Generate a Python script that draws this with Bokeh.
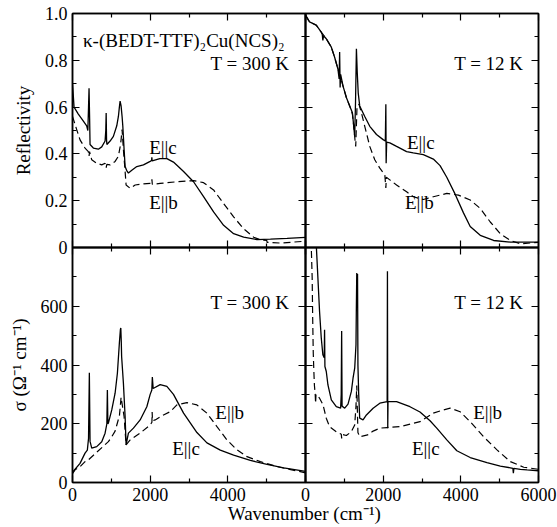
from bokeh.embed import file_html
from bokeh.layouts import column
from bokeh.models import (CustomJSTickFormatter, FixedTicker, Label,
                          LinearAxis, Range1d)
from bokeh.plotting import figure
from bokeh.resources import INLINE

# ---------------------------------------------------------------------------
# Reflectivity, T = 300 K (wavenumber in cm^-1)
r300_c_x = [0, 40, 150, 280, 365, 395, 413, 426, 441, 452, 537, 666, 753, 839, 857,
            867, 877, 885, 968, 1053, 1140, 1182, 1207, 1226, 1251, 1277, 1295, 1329,
            1355, 1393, 1440, 1527, 1656, 1827, 2000, 2038, 2043, 2051, 2250, 2430,
            2600, 2860, 3117, 3375, 3633, 3891, 4149, 4407, 4752, 5096, 5526, 6000]
r300_c_y = [0.70, 0.60, 0.57, 0.54, 0.52, 0.50, 0.60, 0.68, 0.55, 0.44, 0.425, 0.42,
            0.43, 0.455, 0.50, 0.575, 0.46, 0.44, 0.455, 0.475, 0.52, 0.56, 0.60, 0.626,
            0.605, 0.56, 0.52, 0.418, 0.346, 0.33, 0.318, 0.33, 0.346, 0.353, 0.368,
            0.372, 0.385, 0.37, 0.38, 0.38, 0.365, 0.325, 0.281, 0.217, 0.152, 0.095,
            0.059, 0.044, 0.034, 0.036, 0.039, 0.043]
r300_b_x = [0, 108, 194, 323, 408, 426, 439, 495, 624, 753, 839, 864, 885, 968, 1097,
            1182, 1226, 1251, 1277, 1311, 1355, 1380, 1485, 1613, 1827, 2000, 2040, 2045,
            2055, 2258, 2688, 3117, 3375, 3633, 3891, 4149, 4407, 4665, 4838, 5005, 5010,
            5354, 6000]
r300_b_y = [0.56, 0.504, 0.46, 0.425, 0.41, 0.39, 0.41, 0.375, 0.36, 0.353, 0.36, 0.34,
            0.355, 0.353, 0.368, 0.39, 0.43, 0.46, 0.504, 0.418, 0.325, 0.267, 0.253,
            0.267, 0.272, 0.274, 0.274, 0.292, 0.27, 0.274, 0.281, 0.286, 0.277, 0.246,
            0.188, 0.131, 0.08, 0.044, 0.033, 0.03, 0.022, 0.019, 0.027]

# Reflectivity, T = 12 K
r12_c_x = [0, 103, 277, 406, 432, 447, 465, 535, 665, 750, 835, 866, 879, 892, 905, 965,
           1052, 1138, 1208, 1241, 1267, 1288, 1311, 1332, 1358, 1396, 1526, 1655, 1828,
           1999, 2056, 2069, 2077, 2090, 2172, 2345, 2604, 2775, 3034, 3292, 3465, 3638,
           3853, 4068, 4241, 4500, 4844, 5276, 6000]
r12_c_y = [0.993, 0.964, 0.95, 0.92, 0.91, 0.885, 0.905, 0.892, 0.856, 0.813, 0.763,
           0.72, 0.835, 0.684, 0.74, 0.691, 0.641, 0.605, 0.576, 0.52, 0.475, 0.62,
           0.849, 0.75, 0.66, 0.605, 0.56, 0.518, 0.483, 0.461, 0.455, 0.612, 0.36, 0.45,
           0.447, 0.432, 0.41, 0.404, 0.397, 0.378, 0.35, 0.30, 0.228, 0.148, 0.09,
           0.052, 0.03, 0.023, 0.023]
r12_b_x = [0, 103, 277, 406, 535, 665, 750, 835, 965, 1052, 1138, 1208, 1241, 1280, 1293,
           1327, 1378, 1440, 1526, 1655, 1784, 1914, 2043, 2069, 2082, 2172, 2345, 2604,
           2775, 3034, 3292, 3638, 3938, 4241, 4500, 4758, 5017, 5276, 5534, 6000]
r12_b_y = [0.993, 0.964, 0.95, 0.92, 0.892, 0.856, 0.813, 0.763, 0.691, 0.641, 0.605,
           0.57, 0.52, 0.45, 0.432, 0.605, 0.612, 0.576, 0.518, 0.432, 0.375, 0.339,
           0.31, 0.254, 0.30, 0.289, 0.267, 0.238, 0.217, 0.205, 0.217, 0.231, 0.224,
           0.203, 0.167, 0.109, 0.059, 0.03, 0.016, 0.022]

# Optical conductivity (Ohm^-1 cm^-1), T = 300 K
s300_c_x = [0, 194, 323, 382, 413, 434, 452, 495, 624, 753, 839, 885, 898, 911, 924,
            1011, 1097, 1156, 1207, 1233, 1244, 1256, 1265, 1311, 1355, 1380, 1440, 1569,
            1742, 1914, 2000, 2043, 2056, 2077, 2258, 2430, 2600, 2860, 3204, 3462, 3806,
            4149, 4580, 5010, 5439, 6000]
s300_c_y = [35, 65, 100, 110, 150, 374, 140, 117, 122, 139, 168, 200, 315, 200, 202, 247,
            304, 372, 475, 520, 526, 480, 429, 338, 224, 128, 168, 185, 213, 258, 300,
            315, 359, 320, 333, 327, 300, 236, 170, 135, 110, 93, 75, 62, 50, 38]
s300_b_x = [0, 65, 194, 323, 408, 624, 882, 924, 1011, 1097, 1182, 1207, 1251, 1329,
            1380, 1485, 1742, 2000, 2045, 2051, 2060, 2129, 2343, 2516, 2688, 2946, 3204,
            3462, 3720, 3978, 4236, 4494, 4838, 5268, 6000]
s300_b_y = [30, 43, 54, 71, 77, 103, 134, 139, 156, 175, 215, 225, 290, 224, 128, 145,
            168, 196, 205, 240, 210, 213, 230, 241, 264, 272, 264, 236, 190, 145, 111, 88,
            71, 54, 33]

# Optical conductivity, T = 12 K
s12_c_x = [150, 250, 277, 362, 406, 447, 482, 491, 500, 535, 578, 665, 793, 905, 920,
           931, 942, 1010, 1095, 1181, 1224, 1267, 1300, 1310, 1320, 1330, 1340, 1350,
           1370, 1396, 1482, 1569, 1741, 1914, 2103, 2110, 2118, 2125, 2345, 2690, 2948,
           3207, 3380, 3639, 3897, 4241, 4673, 5017, 5276, 5340, 5353, 5366, 5534, 5707,
           6000]
s12_c_y = [1400, 900, 810, 582, 492, 435, 425, 520, 395, 378, 332, 281, 258, 253, 300,
           516, 260, 253, 267, 310, 355, 389, 469, 600, 713, 600, 710, 400, 300, 219, 213,
           230, 253, 270, 275, 719, 185, 275, 275, 258, 240, 210, 185, 145, 108, 85, 68,
           56, 50, 48, 32, 48, 45, 43, 40]
s12_b_x = [100, 147, 172, 185, 200, 215, 230, 250, 260, 270, 362, 450, 535, 621, 793,
           922, 931, 940, 1052, 1181, 1267, 1300, 1320, 1335, 1350, 1396, 1600, 1741,
           1914, 2100, 2431, 2948, 3292, 3551, 3724, 3982, 4241, 4585, 4931, 5276, 5620,
           6000]
s12_b_y = [1200, 810, 696, 560, 440, 380, 330, 300, 270, 300, 287, 265, 219, 190, 173,
           164, 150, 164, 160, 173, 196, 260, 330, 250, 170, 156, 162, 175, 185, 187, 190,
           207, 236, 247, 253, 241, 207, 156, 111, 71, 52, 45]

# Axis ticks
wn_major = [0, 2000, 4000, 6000]
wn_minor = [1000, 3000, 5000]
refl_major = [0, 0.2, 0.4, 0.6, 0.8, 1.0]
refl_minor = [0.1, 0.3, 0.5, 0.7, 0.9]
cond_major = [0, 200, 400, 600, 800]
cond_minor = [100, 300, 500, 700]

# ---------------------------------------------------------------------------
FONT = "Liberation Serif"
INK = "black"
PAGE_H = 527
LEFT, RIGHT = 72, 19          # side borders shared by every canvas in the column
FRAME_W = 233                 # width of one panel
PANEL_W = LEFT + FRAME_W + RIGHT
TICK_SIZE = "18px"
NOTE_SIZE = "19px"


def make_panel(y_end, top, bottom, shift_x, stacked):
    """One panel on a transparent canvas of page height; the top/bottom borders
    place its frame vertically, the left margin shifts the right-hand panels."""
    p = figure(width=PANEL_W, height=PAGE_H, x_range=Range1d(0, 6000),
               y_range=Range1d(0, y_end), x_axis_type=None, y_axis_type=None,
               output_backend="svg", toolbar_location=None,
               min_border_left=LEFT, min_border_right=RIGHT,
               min_border_top=top, min_border_bottom=bottom)
    p.background_fill_color = None
    p.border_fill_color = None
    p.outline_line_color = INK
    p.outline_line_width = 1.5
    p.margin = (-PAGE_H if stacked else 0, 0, 0, shift_x)
    return p


def add_axis(p, side, major, minor, fmt=None, title=None):
    ax = LinearAxis(ticker=FixedTicker(ticks=major, minor_ticks=minor))
    ax.major_tick_in = 7
    ax.major_tick_out = 0
    ax.minor_tick_in = 4
    ax.minor_tick_out = 0
    ax.axis_line_color = INK
    ax.axis_line_width = 1.5
    ax.major_tick_line_color = INK
    ax.minor_tick_line_color = INK
    ax.major_tick_line_width = 1.2
    ax.minor_tick_line_width = 1.2
    if fmt is None:
        ax.formatter = CustomJSTickFormatter(code="return ''")
        ax.major_label_text_font_size = "0px"
        ax.major_label_standoff = 0
    else:
        ax.formatter = CustomJSTickFormatter(code=fmt)
        ax.major_label_text_font = FONT
        ax.major_label_text_font_size = TICK_SIZE
        ax.major_label_text_color = INK
        ax.major_label_standoff = 5
    if title:
        ax.axis_label = title
        ax.axis_label_text_font = FONT
        ax.axis_label_text_font_size = NOTE_SIZE
        ax.axis_label_text_font_style = "normal"
        ax.axis_label_text_color = INK
        ax.axis_label_standoff = 8
    p.add_layout(ax, side)
    return ax


def note(p, x, y, text, align="left", size=NOTE_SIZE):
    p.add_layout(Label(x=x, y=y, text=text, text_font=FONT, text_font_size=size,
                       text_color=INK, text_align=align, text_baseline="middle"))


def draw_pair(p, xc, yc, xb, yb):
    p.line(xc, yc, line_color=INK, line_width=1.3)
    p.line(xb, yb, line_color=INK, line_width=1.2, line_dash="7 4")


REFL_FMT = "return tick == 0 ? '0' : tick.toFixed(1)"
INT_FMT = "return tick.toFixed(0)"

TOP_T, TOP_B = 13, PAGE_H - 247
BOT_T, BOT_B = 247, PAGE_H - 482

# top-left: reflectivity at 300 K
tl = make_panel(1.0, TOP_T, TOP_B, 0, False)
add_axis(tl, "left", refl_major, refl_minor, REFL_FMT, "Reflectivity")
add_axis(tl, "right", refl_major, refl_minor)
add_axis(tl, "above", wn_major, wn_minor)
add_axis(tl, "below", wn_major, wn_minor)
draw_pair(tl, r300_c_x, r300_c_y, r300_b_x, r300_b_y)
note(tl, 271, 0.885, "κ-(BEDT-TTF)₂Cu(NCS)₂")
note(tl, 5580, 0.786, "T = 300 K", align="right")
note(tl, 1974, 0.427, "E||c")
note(tl, 1974, 0.192, "E||b")

# top-right: reflectivity at 12 K
tr = make_panel(1.0, TOP_T, TOP_B, FRAME_W, True)
add_axis(tr, "left", refl_major, refl_minor)
add_axis(tr, "right", refl_major, refl_minor)
add_axis(tr, "above", wn_major, wn_minor)
add_axis(tr, "below", wn_major, wn_minor)
draw_pair(tr, r12_c_x, r12_c_y, r12_b_x, r12_b_y)
note(tr, 5612, 0.786, "T = 12 K", align="right")
note(tr, 2612, 0.449, "E||c")
note(tr, 2560, 0.192, "E||b")

# bottom-left: conductivity at 300 K
bl = make_panel(800, BOT_T, BOT_B, 0, True)
add_axis(bl, "left", cond_major[:-1], cond_minor + [800], INT_FMT, "σ (Ω⁻¹ cm⁻¹)")
add_axis(bl, "right", cond_major, cond_minor)
add_axis(bl, "above", wn_major, wn_minor)
add_axis(bl, "below", wn_major[:-1], wn_minor + [6000], INT_FMT)
draw_pair(bl, s300_c_x, s300_c_y, s300_b_x, s300_b_y)
note(bl, 5580, 613, "T = 300 K", align="right")
note(bl, 3677, 237, "E||b")
note(bl, 2567, 117, "E||c")

# bottom-right: conductivity at 12 K
br = make_panel(800, BOT_T, BOT_B, FRAME_W, True)
add_axis(br, "left", cond_major, cond_minor)
add_axis(br, "right", cond_major, cond_minor)
add_axis(br, "above", wn_major, wn_minor)
add_axis(br, "below", wn_major, wn_minor, INT_FMT)
draw_pair(br, s12_c_x, s12_c_y, s12_b_x, s12_b_y)
note(br, 5612, 613, "T = 12 K", align="right")
note(br, 4319, 237, "E||b")
note(br, 2741, 117, "E||c")

# shared x-axis title, on a strip spanning both columns
STRIP_H = 40
strip = figure(width=LEFT + 2 * FRAME_W + RIGHT, height=STRIP_H,
               x_range=Range1d(0, 2), y_range=Range1d(0, 1),
               x_axis_type=None, y_axis_type=None,
               output_backend="svg", toolbar_location=None,
               min_border_left=LEFT, min_border_right=RIGHT,
               min_border_top=0, min_border_bottom=0)
strip.background_fill_color = None
strip.border_fill_color = None
strip.outline_line_color = None
strip.margin = (-STRIP_H, 0, 0, 0)
note(strip, 0.995, 0.34, "Wavenumber (cm⁻¹)", align="center")

root = column(tl, tr, bl, br, strip, spacing=0)

with open("out.html", "w") as f:
    f.write(file_html(root, INLINE, title="Reflectivity and conductivity"))
